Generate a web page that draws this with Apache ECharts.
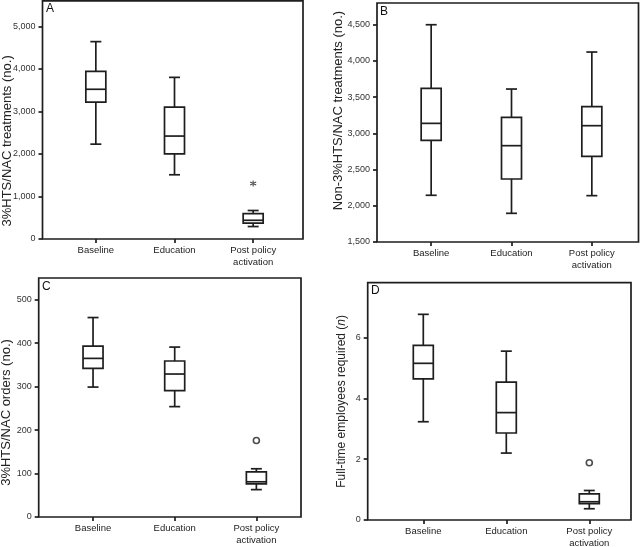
<!DOCTYPE html>
<html>
<head>
<meta charset="utf-8">
<script src="https://cdn.jsdelivr.net/npm/echarts@6/dist/echarts.min.js"></script>
<style>html,body{margin:0;padding:0;background:#fff}#c{width:640px;height:547px}</style>
</head>
<body>
<div id="c"></div>
<script>
// Categories
const categories = ['Baseline', 'Education', 'Post policy\nactivation'];

// Panel A: 3%HTS/NAC treatments (no.)
const aLow  = [2230, 1510, 293];
const aQ1   = [3220, 2000, 375];
const aMed  = [3520, 2420, 440];
const aQ3   = [3940, 3100, 595];
const aHigh = [4640, 3800, 670];
const aOut  = [[2, 1305]];

// Panel B: Non-3%HTS/NAC treatments (no.)
const bLow  = [2145, 1896, 2140];
const bQ1   = [2904, 2370, 2683];
const bMed  = [3138, 2830, 3106];
const bQ3   = [3621, 3221, 3368];
const bHigh = [4500, 3612, 4123];

// Panel C: 3%HTS/NAC orders (no.)
const cLow  = [299, 254, 63];
const cQ1   = [342, 291, 76];
const cMed  = [365, 329, 81];
const cQ3   = [393, 359, 104];
const cHigh = [459, 391, 111];
const cOut  = [[2, 176]];

// Panel D: Full-time employees required (n)
const dLow  = [3.23, 2.20, 0.37];
const dQ1   = [4.64, 2.86, 0.54];
const dMed  = [5.15, 3.53, 0.60];
const dQ3   = [5.74, 4.53, 0.86];
const dHigh = [6.76, 5.55, 0.97];
const dOut  = [[2, 1.88]];

const INK = '#1e1e1e';
const LW = 1.7;
const SANS = '"Liberation Sans", Arial, sans-serif';

function boxData(lo, q1, md, q3, hi) {
  return categories.map((c, i) => [i, lo[i], q1[i], md[i], q3[i], hi[i]]);
}

function renderBox(params, api) {
  const x = api.value(0);
  const pLo = api.coord([x, api.value(1)]);
  const pQ1 = api.coord([x, api.value(2)]);
  const pMd = api.coord([x, api.value(3)]);
  const pQ3 = api.coord([x, api.value(4)]);
  const pHi = api.coord([x, api.value(5)]);
  const cx = pMd[0];
  const hw = 10;   // half box width
  const cw = 5.5;  // half cap width
  const st = { stroke: INK, lineWidth: LW, fill: 'none' };
  return {
    type: 'group',
    children: [
      { type: 'line', shape: { x1: cx, y1: pHi[1], x2: cx, y2: pQ3[1] }, style: st },
      { type: 'line', shape: { x1: cx, y1: pQ1[1], x2: cx, y2: pLo[1] }, style: st },
      { type: 'line', shape: { x1: cx - cw, y1: pHi[1], x2: cx + cw, y2: pHi[1] }, style: st },
      { type: 'line', shape: { x1: cx - cw, y1: pLo[1], x2: cx + cw, y2: pLo[1] }, style: st },
      { type: 'rect', shape: { x: cx - hw, y: pQ3[1], width: 2 * hw, height: pQ1[1] - pQ3[1] }, style: { stroke: INK, lineWidth: LW, fill: '#fff' } },
      { type: 'line', shape: { x1: cx - hw, y1: pMd[1], x2: cx + hw, y2: pMd[1] }, style: st }
    ]
  };
}

// panel layouts: frame box (carries the y axis) and data grid (carries the categories)
const panels = [
  { frame: { left: 42.5, top: 0.8, width: 260.5, height: 238.2 }, data: { left: 56.5, width: 236 },
    min: 0, max: 5600, interval: 1000, name: '3%HTS/NAC treatments (no.)', gap: 29, fs: 13, pad: [0, 42, 0, 0],
    fmt: v => v.toLocaleString('en-US'), letter: 'A', lx: 46, ly: 3,
    series: boxData(aLow, aQ1, aMed, aQ3, aHigh), out: aOut, outType: 'star' },
  { frame: { left: 377, top: 3, width: 261.5, height: 239 }, data: { left: 391, width: 241 },
    min: 1500, max: 4800, interval: 500, name: 'Non-3%HTS/NAC treatments (no.)', gap: 32, fs: 13, pad: [0, 0, 0, 24],
    fmt: v => v.toLocaleString('en-US'), letter: 'B', lx: 380, ly: 6,
    series: boxData(bLow, bQ1, bMed, bQ3, bHigh), out: null },
  { frame: { left: 38.7, top: 278, width: 262.3, height: 239 }, data: { left: 52.2, width: 245 },
    min: 0, max: 550, interval: 100, name: '3%HTS/NAC orders (no.)', gap: 26, fs: 13, pad: [0, 30, 0, 0],
    fmt: v => String(v), letter: 'C', lx: 42, ly: 281,
    series: boxData(cLow, cQ1, cMed, cQ3, cHigh), out: cOut, outType: 'circle' },
  { frame: { left: 367.7, top: 282.7, width: 263.3, height: 237.3 }, data: { left: 381.8, width: 249 },
    min: 0, max: 7.8, interval: 2, name: 'Full-time employees required ({i|n})', gap: 20, fs: 12, pad: [0, 0, 0, 0],
    fmt: v => String(v), letter: 'D', lx: 371, ly: 285,
    series: boxData(dLow, dQ1, dMed, dQ3, dHigh), out: dOut, outType: 'circle' }
];

const grid = [], xAxis = [], yAxis = [], series = [], graphic = [];
// frame grids 0..3
panels.forEach((p, k) => {
  grid.push({ left: p.frame.left, top: p.frame.top, width: p.frame.width, height: p.frame.height,
    containLabel: false, outerBoundsMode: 'none',
    show: true, borderColor: INK, borderWidth: LW, backgroundColor: 'transparent' });
  xAxis.push({ type: 'value', gridIndex: k, show: false, min: 0, max: 1 });
  yAxis.push({ type: 'value', gridIndex: k, min: p.min, max: p.max, interval: p.interval,
    axisLine: { show: false },
    axisTick: { show: true, inside: false, length: 4, lineStyle: { color: INK, width: LW } },
    axisLabel: { fontFamily: SANS, fontSize: 9, color: '#333', margin: 7, showMaxLabel: false, formatter: p.fmt },
    splitLine: { show: false },
    name: p.name, nameLocation: 'middle', nameGap: p.gap, nameMoveOverlap: false,
    nameTextStyle: { fontFamily: SANS, fontSize: p.fs, color: '#222', padding: p.pad,
      rich: { i: { fontFamily: SANS, fontSize: p.fs, fontStyle: 'italic', color: '#222' } } } });
});
// data grids 4..7
panels.forEach((p, k) => {
  const gi = 4 + k;
  grid.push({ left: p.data.left, top: p.frame.top, width: p.data.width, height: p.frame.height,
    containLabel: false, outerBoundsMode: 'none', show: false });
  xAxis.push({ type: 'category', gridIndex: gi, data: categories, boundaryGap: true,
    axisLine: { show: false },
    axisTick: { show: true, alignWithLabel: true, length: 4, lineStyle: { color: INK, width: LW } },
    axisLabel: { fontFamily: SANS, fontSize: 9.5, color: '#222', margin: 6, lineHeight: 11.5, interval: 0 },
    splitLine: { show: false } });
  yAxis.push({ type: 'value', gridIndex: gi, min: p.min, max: p.max, interval: p.interval, show: false });
  series.push({ type: 'custom', xAxisIndex: gi, yAxisIndex: gi, data: p.series, renderItem: renderBox,
    encode: { x: 0, y: [1, 2, 3, 4, 5] }, silent: true, z: 2 });
  if (p.out) {
    if (p.outType === 'circle') {
      series.push({ type: 'scatter', xAxisIndex: gi, yAxisIndex: gi, data: p.out, symbol: 'circle', symbolSize: 6,
        itemStyle: { color: '#fff', borderColor: INK, borderWidth: 1.6 }, silent: true, z: 3 });
    } else {
      series.push({ type: 'scatter', xAxisIndex: gi, yAxisIndex: gi, data: p.out,
        symbol: 'path://M0,-5L0,5M-4.33,-2.5L4.33,2.5M-4.33,2.5L4.33,-2.5', symbolSize: 6,
        itemStyle: { color: 'none', borderColor: INK, borderWidth: 1.1 }, silent: true, z: 3 });
    }
  }
  graphic.push({ type: 'text', left: p.lx, top: p.ly, style: { text: p.letter, font: '12px "Liberation Sans", Arial, sans-serif', fill: '#111' } });
});

const chart = echarts.init(document.getElementById('c'), null, { renderer: 'canvas' });
chart.setOption({ animation: false, grid, xAxis, yAxis, series, graphic });
</script>
</body>
</html>
